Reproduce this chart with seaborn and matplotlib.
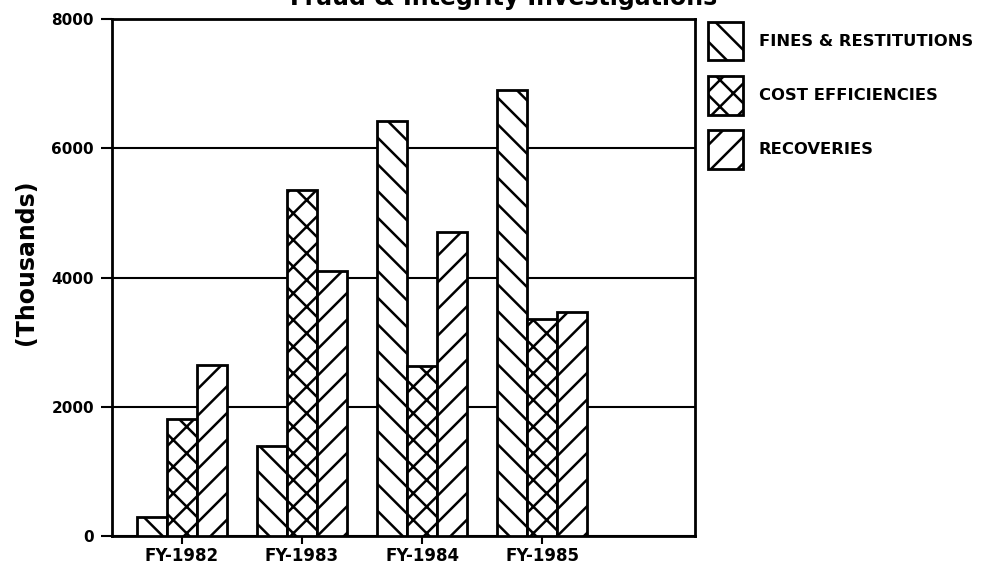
import matplotlib
matplotlib.use("Agg")
import matplotlib.pyplot as plt
from matplotlib.patches import Patch
import seaborn as sns
import pandas as pd

years = ["FY-1982", "FY-1983", "FY-1984", "FY-1985"]
series = ["FINES & RESTITUTIONS", "COST EFFICIENCIES", "RECOVERIES"]
fines = [290, 1400, 6420, 6900]
cost = [1810, 5360, 2630, 3360]
recoveries = [2650, 4100, 4700, 3460]
yticks = [0, 2000, 4000, 6000, 8000]
title = "Fraud & Integrity Investigations"
ylabel = "(Thousands)"

hatches = ["\\", "x", "/"]

df = pd.DataFrame({
    "year": years * 3,
    "series": [series[0]] * 4 + [series[1]] * 4 + [series[2]] * 4,
    "value": fines + cost + recoveries,
})

DPI = 80
K = 100 / DPI  # keep point sizes equivalent to a 100-dpi layout

sns.set_style("white")
plt.rcParams["font.family"] = ["DejaVu Sans"]
plt.rcParams["hatch.linewidth"] = 1.8 * K
plt.rcParams["hatch.color"] = "black"
for key in ["text.color", "axes.labelcolor", "xtick.color", "ytick.color"]:
    plt.rcParams[key] = "black"

fig = plt.figure(figsize=(981 / DPI, 574 / DPI), dpi=DPI)
ax = fig.add_axes([0.1142, 0.0662, 0.5943, 0.9007])

sns.barplot(data=df, x="year", y="value", hue="series", order=years,
            hue_order=series, width=0.75, ax=ax, legend=False,
            palette=["white"] * 3, saturation=1,
            edgecolor="black", linewidth=2 * K, errorbar=None)

for i, p in enumerate(ax.patches):
    p.set_hatch(hatches[i // len(years)])
    p.set_facecolor("white")
    p.set_edgecolor("black")
    p.set_linewidth(2 * K)
    p.set_zorder(3)

ax.set_xlim(-0.58, 4.27)
ax.set_ylim(0, 8000)
ax.set_yticks(yticks)
ax.set_yticklabels([str(v) for v in yticks], fontsize=11 * K, fontweight="bold")
ax.set_xticks(range(len(years)))
ax.set_xticklabels(years, fontsize=12 * K, fontweight="bold")
ax.tick_params(axis="y", direction="out", length=8 * K, width=1.5 * K,
               left=True, pad=5 * K, colors="black")
ax.tick_params(axis="x", direction="out", length=6 * K, width=1.5 * K,
               bottom=True, pad=2 * K, colors="black")
ax.set_xlabel("")
ax.set_ylabel(ylabel, fontsize=17 * K, fontweight="bold", color="black")
ax.yaxis.set_label_coords(-0.127, 0.530)

ax.yaxis.grid(True, color="black", linewidth=1.5 * K)
ax.xaxis.grid(False)
ax.set_axisbelow(True)
for s in ax.spines.values():
    s.set_visible(True)
    s.set_color("black")
    s.set_linewidth(2 * K)

handles = [Patch(facecolor="white", edgecolor="black", hatch=h, linewidth=2 * K)
           for h in hatches]
leg = ax.legend(handles, series, loc="upper left", bbox_to_anchor=(0.997, 1.023),
                frameon=False, handlelength=2.15, handleheight=3.25,
                labelspacing=0.95, handletextpad=0.95,
                prop={"size": 11.8 * K, "weight": "bold"})
for t in leg.get_texts():
    t.set_color("black")

fig.text(0.513, 1.004, title, ha="center", va="center", fontsize=17 * K,
         fontweight="bold", color="black")

fig.savefig("out.png", dpi=DPI)
